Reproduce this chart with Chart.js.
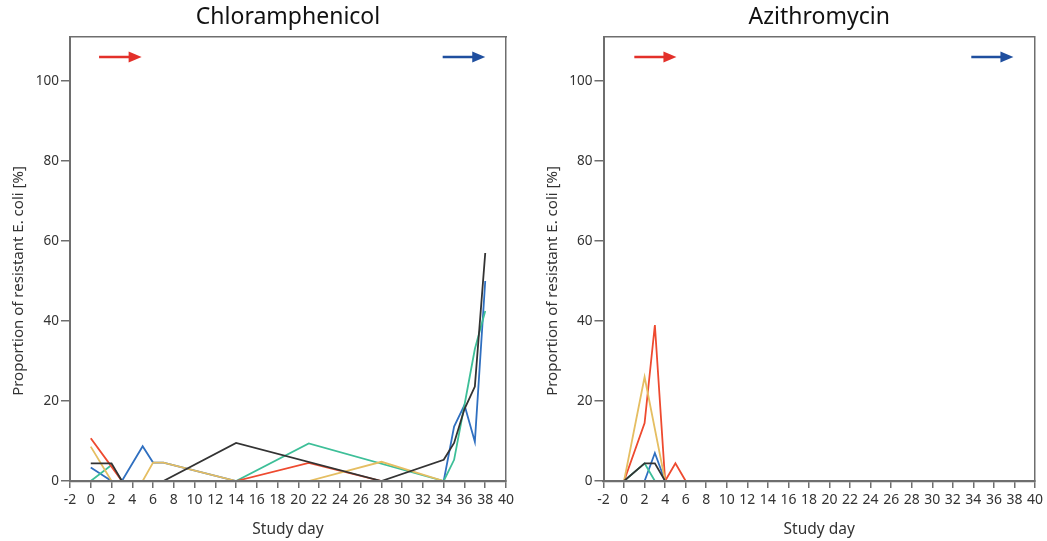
<!DOCTYPE html>
<html>
<head>
<meta charset="utf-8">
<script src="https://cdn.jsdelivr.net/npm/chart.js@4.4.0/dist/chart.umd.min.js"></script>
<style>
  body { margin: 0; background: #fff; }
  .panel { position: absolute; top: 0; height: 541px; }
  #left { left: 0; width: 523px; }
  #right { left: 523px; width: 524px; }
</style>
</head>
<body>
<div class="panel" id="left"><canvas id="chlChart"></canvas></div>
<div class="panel" id="right"><canvas id="aziChart"></canvas></div>
<script>
// study day axis and y ticks
const dayMin = -2;
const dayMax = 40;
const dayStep = 2;
const yTickValues = [0, 20, 40, 60, 80, 100];
const yMax = 111;

// Chloramphenicol, [day, % resistant]
const chlBlack  = [[0, 4.4], [2, 4.4], [3, 0], [7, 0], [14, 9.5], [28, 0], [34, 5.3], [35, 9.5], [36, 18], [37, 23.6], [38, 57]];
const chlYellow = [[0, 8.6], [2, 0], [5, 0], [6, 4.6], [7, 4.6], [14, 0], [21, 0], [28, 4.8], [34, 0]];
const chlRed    = [[0, 10.7], [2, 3.6], [3, 0], [14, 0], [21, 4.5], [28, 0]];
const chlTeal   = [[0, 0], [2, 4], [3, 0], [14, 0], [21, 9.4], [34, 0], [35, 5.3], [36, 19], [37, 33], [38, 42.5]];
const chlBlue   = [[0, 3.4], [2, 0], [3, 0], [5, 8.7], [6, 4.6], [7, 4.6], [14, 0], [34, 0], [35, 13.6], [36, 19], [37, 9.8], [38, 50]];

// Azithromycin
const aziBlack  = [[0, 0], [2, 4.4], [3, 4.4], [4, 0]];
const aziYellow = [[0, 0], [2, 26], [4, 0]];
const aziRed    = [[0, 0], [2, 14.5], [3, 39], [4, 0], [5, 4.4], [6, 0]];
const aziTeal   = [[0, 0], [2, 4.4], [3, 0]];
const aziBlue   = [[2, 0], [3, 7], [4, 0]];

// treatment arrows (start day, end day)
const chlArrowDays = [[0.8, 4.9], [33.9, 38]];
const aziArrowDays = [[1, 5.1], [33.8, 37.9]];

const lineColors = ['#333333', '#e5be62', '#ee4a2f', '#3dbf98', '#2f6fc0'];
const arrowColors = ['#e3302a', '#1f4f9f'];
const axisColor = '#6e6e6e';
const FONT = '"Noto Sans", sans-serif';

// arrows drawn on top of the plot
const arrowPlugin = {
  id: 'doseArrows',
  afterDatasetsDraw(chart, args, opts) {
    const ctx = chart.ctx;
    const xs = chart.scales.x, ys = chart.scales.y;
    const py = ys.getPixelForValue(106);
    opts.days.forEach(function (d, i) {
      const x1 = xs.getPixelForValue(d[0]);
      const x2 = xs.getPixelForValue(d[1]);
      ctx.save();
      ctx.strokeStyle = arrowColors[i];
      ctx.fillStyle = arrowColors[i];
      ctx.lineWidth = 2.6;
      ctx.beginPath();
      ctx.moveTo(x1, py);
      ctx.lineTo(x2 - 9, py);
      ctx.stroke();
      ctx.beginPath();
      ctx.moveTo(x2, py);
      ctx.lineTo(x2 - 13, py - 5.5);
      ctx.lineTo(x2 - 13, py + 5.5);
      ctx.closePath();
      ctx.fill();
      ctx.restore();
    });
  }
};

// y title centred on the 0-100 range
const yTitlePlugin = {
  id: 'yTitle',
  afterDraw(chart) {
    const ys = chart.scales.y;
    const ctx = chart.ctx;
    ctx.save();
    ctx.translate(ys.right - 51, ys.getPixelForValue(50));
    ctx.rotate(-Math.PI / 2);
    ctx.font = '15px ' + FONT;
    ctx.fillStyle = '#333';
    ctx.textAlign = 'center';
    ctx.textBaseline = 'middle';
    ctx.fillText('Proportion of resistant E. coli [%]', 0, 0);
    ctx.restore();
  }
};

function makeChart(id, title, series, arrowDays, leftWidth, rightWidth) {
  const datasets = series.map(function (pts, i) {
    return {
      data: pts.map(p => ({ x: p[0], y: p[1] })),
      borderColor: lineColors[i],
      borderWidth: 1.8,
      pointRadius: 0,
      fill: false,
      tension: 0
    };
  });

  return new Chart(document.getElementById(id), {
    type: 'line',
    data: { datasets: datasets },
    plugins: [arrowPlugin, yTitlePlugin],
    options: {
      responsive: true,
      maintainAspectRatio: false,
      animation: false,
      layout: { padding: 0 },
      plugins: {
        legend: { display: false },
        tooltip: { enabled: false },
        doseArrows: { days: arrowDays }
      },
      scales: {
        x: {
          type: 'linear',
          position: 'bottom',
          min: dayMin,
          max: dayMax,
          ticks: { stepSize: dayStep, color: '#333', font: { family: FONT, size: 14 }, padding: 4, maxRotation: 0, autoSkip: false },
          grid: { drawOnChartArea: false, drawTicks: true, tickLength: 7, color: axisColor, lineWidth: 1.5 },
          border: { color: axisColor, width: 2.2, z: 1 },
          title: { display: true, text: 'Study day', color: '#333', font: { family: FONT, size: 15.5 }, padding: { top: 0, bottom: 2 } },
          afterFit: s => { s.height = 60; }
        },
        xTop: {
          type: 'linear',
          position: 'top',
          min: dayMin,
          max: dayMax,
          ticks: { display: false },
          grid: { display: false, drawTicks: false },
          border: { color: axisColor, width: 1.5 },
          title: { display: true, text: title, color: '#111', font: { family: FONT, size: 23 }, padding: { top: 4, bottom: 0 } },
          afterFit: s => { s.height = 37; }
        },
        y: {
          min: 0,
          max: yMax,
          afterBuildTicks: s => { s.ticks = yTickValues.map(v => ({ value: v })); },
          ticks: { color: '#333', font: { family: FONT, size: 13.5 }, padding: 2 },
          grid: { drawOnChartArea: false, drawTicks: true, tickLength: 9, color: axisColor, lineWidth: 1.5 },
          border: { color: axisColor, width: 2, z: 1 },
          afterFit: s => { s.width = leftWidth; }
        },
        yRight: {
          position: 'right',
          ticks: { display: false },
          grid: { display: false, drawTicks: false },
          border: { color: axisColor, width: 1.5 },
          afterFit: s => { s.width = rightWidth; }
        }
      }
    }
  });
}

makeChart('chlChart', 'Chloramphenicol', [chlBlack, chlYellow, chlRed, chlTeal, chlBlue], chlArrowDays, 70, 17);
makeChart('aziChart', 'Azithromycin', [aziBlack, aziYellow, aziRed, aziTeal, aziBlue], aziArrowDays, 80.5, 7);
</script>
</body>
</html>
